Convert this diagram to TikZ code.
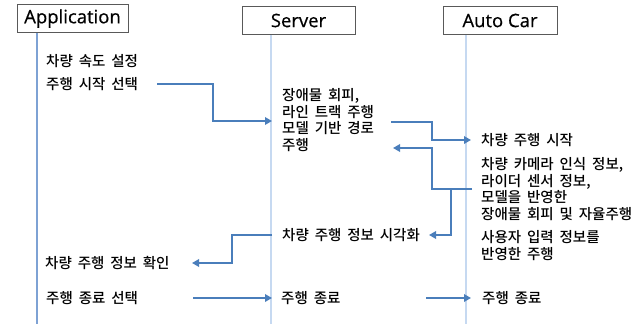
\documentclass[tikz,border=0pt]{standalone}
\usepackage{fontspec}
\newfontfamily\kofont{Noto Sans CJK KR Medium}[WordSpace=1.8]
\newfontfamily\headfont{Open Sans}[FakeBold=0.5]
\usetikzlibrary{arrows.meta}
\definecolor{msgblue}{HTML}{4A7EBB}
\definecolor{lifeblue}{HTML}{C6D9F1}
\definecolor{appblue}{HTML}{7EA2D4}
\definecolor{boxgray}{HTML}{595959}
\newcommand\seqheadstyle{\headfont\fontsize{18.5}{20}\selectfont}
\newcommand\seqtextstyle{\kofont\fontsize{14.5}{16.5}\selectfont}
\newcommand\seqmsgwidth{2.2pt}

\begin{document}
\begin{tikzpicture}[x=1pt, y=-1pt,
    headbox/.style={draw=boxgray, line width=.9pt, fill=white, minimum height=28pt, inner sep=0pt, font=\seqheadstyle},
    seqtext/.style={anchor=west, inner sep=0pt, align=left, font=\seqtextstyle},
    lifeline/.style={draw=lifeblue, line width=1.6pt},
    applife/.style={draw=appblue, line width=1.2pt},
    msg/.style={draw=msgblue, line width=\seqmsgwidth, -{Triangle[length=7pt,width=7.5pt]}}]
    \useasboundingbox (0,0) rectangle (641,324) ;
    % lifelines
    \coordinate (appbot) at (37,324) ;
    \coordinate (srvbot) at (271,324) ;
    \coordinate (carbot) at (466,324) ;
    \node[headbox, minimum width=111pt] (app) at (72.5,18.5) {Application} ;
    \node[headbox, minimum width=113pt] (srv) at (298.5,20.5) {Server} ;
    \node[headbox, minimum width=114pt] (car) at (500,20.5) {Auto Car} ;
    \draw[applife] (app.south -| appbot) -- (appbot) ;
    \draw[lifeline] (srv.south -| srvbot) -- (srvbot) ;
    \draw[lifeline] (car.south -| carbot) -- (carbot) ;
    % Application
    \node[seqtext] (speed) at (46,61) {차량 속도 설정} ;
    \node[seqtext] (start) at (46,84) {주행 시작 선택} ;
    \node[seqtext] (check) at (45,263) {차량 주행 정보 확인} ;
    \node[seqtext] (stop) at (46,298) {주행 종료 선택} ;
    % Server
    \node[seqtext] (plan) at (282,120) {장애물 회피,\\라인 트랙 주행\\모델 기반 경로\\주행} ;
    \node[seqtext] (show) at (282,235) {차량 주행 정보 시각화} ;
    \node[seqtext] (srvend) at (281,298) {주행 종료} ;
    % Auto Car
    \node[seqtext] (drive) at (481,140) {차량 주행 시작} ;
    \node[seqtext] (sense) at (481,189) {차량 카메라 인식 정보,\\라이더 센서 정보,\\모델을 반영한\\장애물 회피 및 자율주행} ;
    \node[seqtext] (user) at (481,245.5) {사용자 입력 정보를\\반영한 주행} ;
    \node[seqtext] (carend) at (482,298) {주행 종료} ;
    % messages
    \coordinate (m1a) at (157,84) ;
    \coordinate (m1b) at (213,121) ;
    \coordinate (m1c) at (272,121) ;
    \draw[msg] (m1a) -| (m1b) -- (m1c) ;
    \coordinate (m2a) at (391,122) ;
    \coordinate (m2b) at (432,140) ;
    \coordinate (m2c) at (471,140) ;
    \draw[msg] (m2a) -| (m2b) -- (m2c) ;
    \coordinate (m3a) at (472,189) ;
    \coordinate (m3b) at (432,148) ;
    \coordinate (m3c) at (393,148) ;
    \draw[msg] (m3a) -| (m3b) -- (m3c) ;
    \coordinate (m4a) at (451,189) ;
    \coordinate (m4b) at (429,235) ;
    \draw[msg] (m4a) |- (m4b) ;
    \coordinate (m5a) at (272,235) ;
    \coordinate (m5b) at (232,263) ;
    \coordinate (m5c) at (192,263) ;
    \draw[msg] (m5a) -| (m5b) -- (m5c) ;
    \coordinate (m6a) at (193,298) ;
    \coordinate (m6b) at (272,298) ;
    \draw[msg] (m6a) -- (m6b) ;
    \coordinate (m7a) at (426,298) ;
    \coordinate (m7b) at (471,298) ;
    \draw[msg] (m7a) -- (m7b) ;
\end{tikzpicture}
\end{document}
